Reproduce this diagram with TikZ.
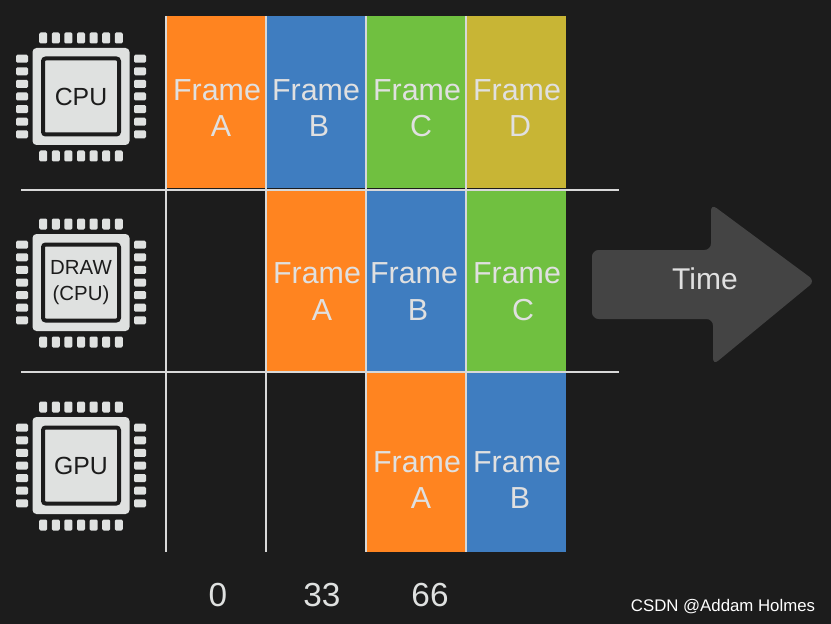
\documentclass[tikz,border=0pt]{standalone}
\usepackage{fontspec}
\setmainfont{Liberation Sans}
\definecolor{bgdark}{HTML}{1C1C1C}
\definecolor{chiplight}{HTML}{DFE1E0}
\definecolor{gridline}{HTML}{D8D8D8}
\definecolor{arrowgray}{HTML}{444444}
\definecolor{forange}{HTML}{FF8420}
\definecolor{fblue}{HTML}{3F7DC0}
\definecolor{fgreen}{HTML}{70C040}
\definecolor{folive}{HTML}{C8B535}
% chip icon: name, centre y, label
\newcommand{\chipicon}[3]{
  \foreach \i in {-3,...,3} {
    \node[pin] at ({81+12.6*\i},{#2-58.5}) {};
    \node[pin] at ({81+12.6*\i},{#2+59.5}) {};
    \node[pin,minimum width=9pt,minimum height=6pt] at (22,{#2+12.6*\i}) {};
    \node[pin,minimum width=9pt,minimum height=6pt] at (140,{#2+12.6*\i}) {};
  }
  \node[chipbody] (#1) at (81,#2) {};
  \node[chipcore] (#1core) at (81,#2) {#3};
}
\begin{document}
\begin{tikzpicture}[
    x=0.75pt,y=-0.75pt,
    pin/.style={fill=chiplight,rounded corners=1pt,minimum width=6pt,minimum height=8.25pt,inner sep=0pt,outer sep=0pt},
    chipbody/.style={fill=chiplight,rounded corners=3pt,minimum size=72.75pt,inner sep=0pt},
    chipcore/.style={fill=chiplight,draw=bgdark,line width=3pt,rounded corners=2pt,minimum size=57pt,inner sep=0pt,align=center,text=bgdark,font=\fontsize{18.6}{20}\selectfont},
    cell/.style={anchor=north west,inner sep=0pt,outer sep=0pt,minimum width=75pt},
    ftext/.style={text=white!88!black,font=\fontsize{22.8}{26}\selectfont,inner sep=0pt},
    tick/.style={text=chiplight,font=\fontsize{25}{28}\selectfont,inner sep=0pt},
    gridrule/.style={draw=gridline,line width=1.5pt}
]
\useasboundingbox (0,0) rectangle (831,624);
\fill[bgdark] (0,0) rectangle (831,624);

\chipicon{cpu}{96.5}{CPU}
\chipicon{draw}{282.5}{\fontsize{15.3}{19.5}\selectfont DRAW\\\fontsize{15.3}{19.5}\selectfont (CPU)}
\chipicon{gpu}{465.5}{GPU}

% row 1
\node[cell,fill=forange,minimum height=129pt] (c11) at (167,16) {};
\node[cell,fill=fblue,minimum height=129pt]   (c12) at (266,16) {};
\node[cell,fill=fgreen,minimum height=129pt]  (c13) at (366,16) {};
\node[cell,fill=folive,minimum height=129pt]  (c14) at (466,16) {};
% row 2
\node[cell,fill=forange,minimum height=136pt] (c22) at (266,190) {};
\node[cell,fill=fblue,minimum height=136pt]   (c23) at (366,190) {};
\node[cell,fill=fgreen,minimum height=136pt]  (c24) at (466,190) {};
% row 3
\node[cell,fill=forange,minimum height=134pt] (c33) at (366,373) {};
\node[cell,fill=fblue,minimum height=134pt]   (c34) at (466,373) {};

% grid
\foreach \x in {166,266,366,466}
  \draw[gridrule] (\x,16) -- (\x,552);
\foreach \y in {189.5,372}
  \draw[gridrule] (21,\y) -- (619,\y);

% labels
\foreach \fx/\lx/\fy/\ly/\l in {217/221/90/126/A,316/319/90/126/B,417/421/90/126/C,517/520/90/126/D,
    317/322/273/310/A,414/418/273/310/B,517/523/273/310/C,
    417/421/462/498/A,517/520/462/498/B} {
  \node[ftext] at (\fx,\fy) {Frame};
  \node[ftext] at (\lx,\ly) {\l};
}

% time arrow
\fill[arrowgray,rounded corners=5pt] (592,250) -- (711,250) -- (711,204) -- (815,281)
  -- (713,365) -- (713,319) -- (592,319) -- cycle;
\node[text=white!88!black,font=\fontsize{22.5}{25}\selectfont,inner sep=0pt] (time) at (705,279) {Time};

\node[tick] (t0)  at (218,595) {0};
\node[tick] (t33) at (322,595) {33};
\node[tick] (t66) at (430,595) {66};

\node[text=white,font=\fontsize{12.6}{14}\selectfont,inner sep=0pt] (mark) at (723,607) {CSDN @Addam Holmes};
\end{tikzpicture}
\end{document}
